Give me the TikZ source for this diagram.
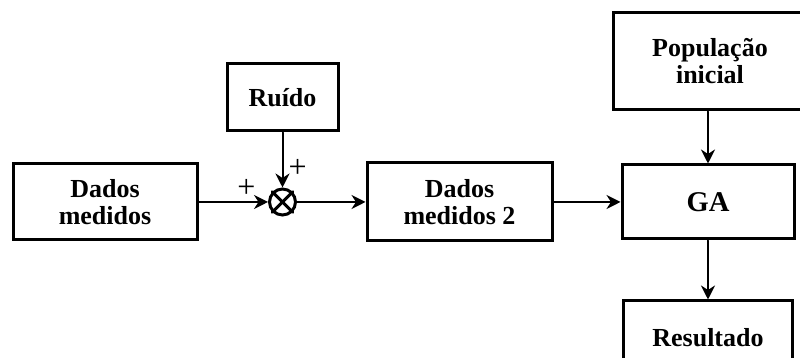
\documentclass[tikz,border=0pt]{standalone}
\usepackage{fontspec}
\setmainfont{Liberation Serif}
\usetikzlibrary{arrows.meta}
\usetikzlibrary{positioning}

\begin{document}
\begin{tikzpicture}[x=0.5pt, y=0.5pt, line cap=round,
    bloco/.style={draw, line width=1.5pt, align=center, inner sep=0pt,
        font=\fontsize{13}{13.5}\selectfont\bfseries},
    somador/.style={draw, circle, line width=1.5pt, minimum size=13pt, inner sep=0pt},
    seta/.style={line width=1pt, -{Stealth[length=7pt, width=7pt]}},
    sinal/.style={font=\fontsize{16}{16}\selectfont, inner sep=0pt}]
    % diagrama de blocos do GA com ruido
    \useasboundingbox (0,0) rectangle (800,358);

    \node[bloco, minimum width=92pt, minimum height=38pt] (dados) at (105,156) {Dados\\medidos};
    \node[bloco, minimum width=55.5pt, minimum height=33.5pt] (ruido) at (282.5,260.5) {Ruído};
    \node[somador] (soma) at (282.5,156) {};
    \draw[line width=1.5pt] (soma.north east) -- (soma.south west);
    \draw[line width=1.5pt] (soma.north west) -- (soma.south east);
    \node[bloco, minimum width=92.5pt, minimum height=39pt] (dados2) at (459.5,156) {Dados\\medidos 2};
    \node[bloco, minimum width=97pt, minimum height=48.5pt] (pop) at (710,296.5) {População\\inicial};
    \node[bloco, minimum width=86pt, minimum height=37pt,
        font=\fontsize{14.3}{15}\selectfont\bfseries] (ga) at (708,156) {GA};
    \node[bloco, minimum width=84.5pt, minimum height=37pt] (res) at (708,20) {Resultado};

    \draw[seta] (dados.east) -- node[sinal, pos=0.69, above=1.5pt] {+} (soma.west);
    \draw[seta] (ruido.south) -- node[sinal, pos=0.66, right=2.5pt] {+} (soma.north);
    \draw[seta] (soma.east) -- (dados2.west);
    \draw[seta] (dados2.east) -- (ga.west);
    \draw[seta] (pop.south -| ga.north) -- (ga.north);
    \draw[seta] (ga.south) -- (res.north);
\end{tikzpicture}
\end{document}
